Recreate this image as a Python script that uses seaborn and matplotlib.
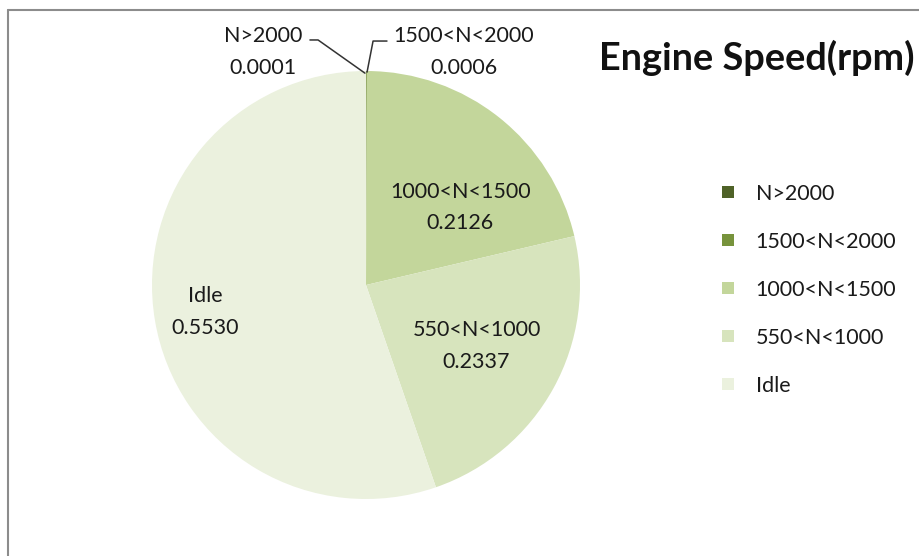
import seaborn as sns
import numpy as np
import matplotlib.pyplot as plt
from matplotlib.lines import Line2D

categories = ['N>2000', '1500<N<2000', '1000<N<1500', '550<N<1000', 'Idle']
shares = [0.0001, 0.0006, 0.2126, 0.2337, 0.5530]
share_labels = ['0.0001', '0.0006', '0.2126', '0.2337', '0.5530']
colors = ['#4F6228', '#77933C', '#C3D69B', '#D7E4BD', '#EBF1DE']

sns.set_theme(style="white")
plt.rcParams['font.family'] = ['Lato', 'DejaVu Sans']
txt = '#1a1a1a'
fs = 15.5
ls = 1.72

fig = plt.figure(figsize=(9.2, 5.56), dpi=100)
ax = fig.add_axes([152 / 920, 1 - 499 / 556, 428 / 920, 428 / 556])

wedges, _ = ax.pie(shares, colors=sns.color_palette(colors), startangle=90,
                   counterclock=False, radius=1,
                   wedgeprops=dict(linewidth=0))
ax.set_xlim(-1, 1)
ax.set_ylim(-1, 1)
ax.set_aspect('equal')

# inner labels: radius (fraction) and angle shift per slice
inner = {2: (0.57, 12), 3: (0.59, 0), 4: (0.76, 0)}
for i, (r, shift) in inner.items():
    w = wedges[i]
    ang = np.deg2rad((w.theta1 + w.theta2) / 2 - shift)
    ax.text(r * np.cos(ang), r * np.sin(ang),
            f"{categories[i]}\n{share_labels[i]}", ha='center', va='center',
            fontsize=fs, color=txt, linespacing=ls)

# tiny slices with leader lines
ax.text(-0.481, 1.09, f"{categories[0]}\n{share_labels[0]}", ha='center',
        va='center', fontsize=fs, color=txt, linespacing=ls, clip_on=False)
ax.text(0.458, 1.09, f"{categories[1]}\n{share_labels[1]}", ha='center',
        va='center', fontsize=fs, color=txt, linespacing=ls, clip_on=False)
ax.plot([-0.262, -0.224, -0.005], [1.145, 1.145, 0.99], color='#333333',
        lw=1.1, clip_on=False)
ax.plot([0.005, 0.033, 0.098], [0.995, 1.14, 1.14], color='#333333',
        lw=1.1, clip_on=False)

fig.text(599 / 920, 1 - 58 / 556, 'Engine Speed(rpm)', fontsize=27.3,
         fontweight='bold', color='#111111', va='center', ha='left')

handles = [Line2D([], [], marker='s', linestyle='', markersize=8,
                  markerfacecolor=c, markeredgewidth=0) for c in colors]
fig.legend(handles, categories, loc='center left',
           bbox_to_anchor=(717 / 920, 1 - 290 / 556), frameon=False,
           fontsize=fs, labelspacing=1.3, handlelength=1.0,
           handletextpad=0.8, borderpad=0, borderaxespad=0,
           labelcolor=txt)

# chart area border (top and left edges visible)
fig.add_artist(Line2D([8 / 920, 1], [1 - 10 / 556, 1 - 10 / 556],
                      color='#8c8c8c', lw=1.5))
fig.add_artist(Line2D([8 / 920, 8 / 920], [0, 1 - 10 / 556],
                      color='#8c8c8c', lw=1.5))

fig.savefig('out.png', dpi=100, facecolor='white')
